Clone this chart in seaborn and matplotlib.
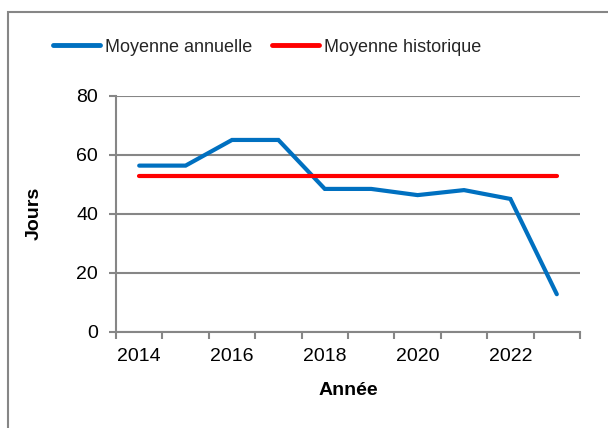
import matplotlib
matplotlib.use("Agg")
import matplotlib.pyplot as plt
import seaborn as sns
import pandas as pd
from matplotlib.patches import Rectangle
from matplotlib.ticker import FixedLocator, NullFormatter

years = ["2014", "2015", "2016", "2017", "2018", "2019", "2020", "2021", "2022", "2023"]
annual_mean = [56.3, 56.3, 65.0, 65.0, 48.4, 48.4, 46.3, 48.0, 45.0, 12.7]
historic_mean = [52.8] * len(years)
series_names = ["Moyenne annuelle", "Moyenne historique"]
tick_labels = ["2014", "2016", "2018", "2020", "2022"]

sns.set_theme(style="white")
plt.rcParams["font.family"] = ["Liberation Sans", "DejaVu Sans"]

df = pd.DataFrame({
    "Année": list(range(len(years))) * 2,
    "Jours": annual_mean + historic_mean,
    "Série": [series_names[0]] * len(years) + [series_names[1]] * len(years),
})

fig = plt.figure(figsize=(6.08, 4.28), dpi=100)
ax = fig.add_axes([116 / 608, 1 - 331.7 / 428, (580 - 116) / 608, (331.7 - 95.7) / 428])

sns.lineplot(data=df, x="Année", y="Jours", hue="Série",
             palette={series_names[0]: "#0070C0", series_names[1]: "#FF0000"},
             linewidth=3.0, ax=ax, legend=True)
for ln in ax.lines:
    ln.set_solid_capstyle("round")
    ln.set_solid_joinstyle("miter")

gray = "#868686"
ax.set_xlim(-0.5, len(years) - 0.5)
ax.set_ylim(0, 80)
ax.set_yticks([0, 20, 40, 60, 80])
ax.yaxis.grid(True, color=gray, linewidth=1.5)
ax.set_axisbelow(True)

ax.set_xticks([0, 2, 4, 6, 8])
ax.set_xticklabels(tick_labels)
ax.xaxis.set_minor_locator(FixedLocator([i - 0.5 for i in range(len(years) + 1)]))
ax.xaxis.set_minor_formatter(NullFormatter())
ax.tick_params(axis="x", which="major", length=0, pad=12, labelsize=14, labelcolor="black")
ax.tick_params(axis="x", which="minor", length=5, width=1.5, color=gray, direction="out", bottom=True)
ax.tick_params(axis="y", length=5, width=1.5, color=gray, direction="out", left=True, pad=8,
               labelsize=14, labelcolor="black")

for side in ["top", "right"]:
    ax.spines[side].set_visible(False)
for side in ["left", "bottom"]:
    ax.spines[side].set_color(gray)
    ax.spines[side].set_linewidth(1.5)

ax.set_xlabel("Année", fontsize=14, fontweight="bold", color="black", labelpad=12)
ax.set_ylabel("Jours", fontsize=14, fontweight="bold", color="black", labelpad=24)

handles, labels = ax.get_legend_handles_labels()
ax.legend(handles, labels, loc="center", bbox_to_anchor=(267 / 608, 1 - 47 / 428),
          bbox_transform=fig.transFigure, ncol=2, frameon=False, fontsize=13,
          handlelength=2.6, handletextpad=0.28, columnspacing=1.1)
for h in ax.get_legend().legend_handles:
    h.set_linewidth(3.5)

fig.patches.append(Rectangle((8 / 608, -0.05), 1.2, 1 - 12 / 428 + 0.05,
                             transform=fig.transFigure, fill=False,
                             edgecolor=gray, linewidth=1.5))

fig.savefig("out.png", dpi=100)
